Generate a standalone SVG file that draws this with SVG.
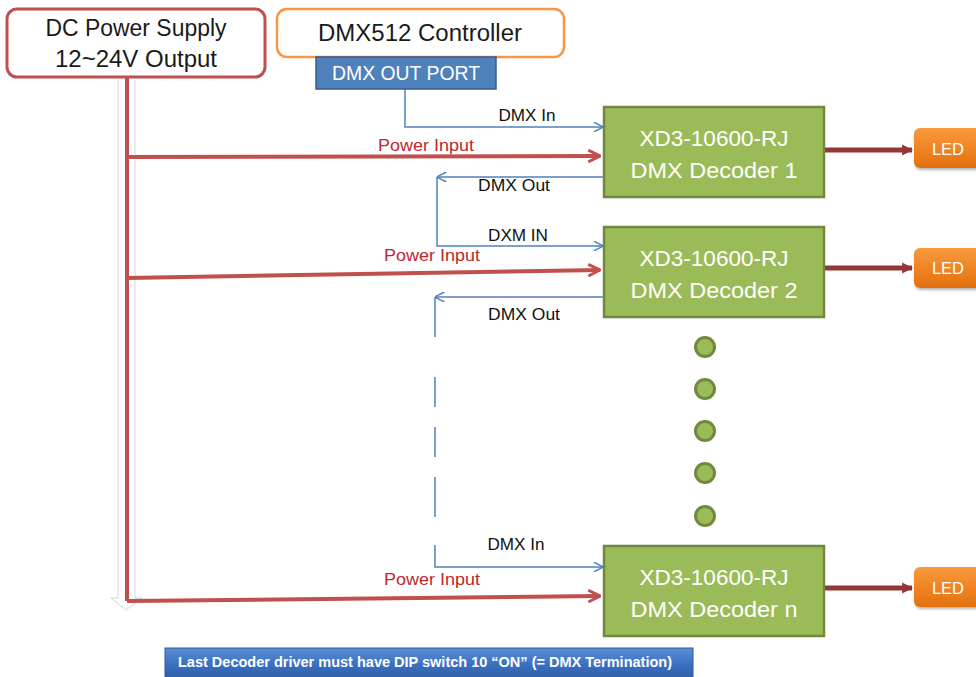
<svg xmlns="http://www.w3.org/2000/svg" width="976" height="677" viewBox="0 0 976 677">
<defs>
<style>
text{font-family:"Liberation Sans",Arial,sans-serif}
.hdr{font-size:23.5px;fill:#1a1a1a;text-anchor:middle}
.dec{font-size:22.5px;fill:#fff;text-anchor:middle}
.lbl{font-size:16.5px;fill:#111;text-anchor:middle}
.pwl{font-size:16.5px;fill:#c0272d;text-anchor:middle}
.blue{stroke:#4f81bd;stroke-width:1.5;fill:none}
.red{stroke:#c0504d;stroke-width:4;fill:none}
.led-line{stroke:#953735;stroke-width:5;fill:none}
.decbox{fill:#9bbb59;stroke:#71893f;stroke-width:2.5}
.dot{fill:#9bbb59;stroke:#71893f;stroke-width:3}
.led{fill:url(#ledg)}
</style>
<linearGradient id="ledg" x1="0" y1="0" x2="0" y2="1">
<stop offset="0" stop-color="#f99a3c"/>
<stop offset="1" stop-color="#e4700e"/>
</linearGradient>
<linearGradient id="bang" x1="0" y1="0" x2="0" y2="1">
<stop offset="0" stop-color="#5b8fd6"/>
<stop offset="0.5" stop-color="#3a6fc0"/>
<stop offset="1" stop-color="#2c5aa0"/>
</linearGradient>
<marker id="ab" viewBox="0 0 10 10" refX="9.5" refY="5" markerWidth="10" markerHeight="10" markerUnits="userSpaceOnUse" orient="auto">
<path d="M0,0 L10,5 L0,10" fill="none" stroke="#4f81bd" stroke-width="1.5"/>
</marker>
<marker id="ar" viewBox="0 0 12 12" refX="11" refY="6" markerWidth="14" markerHeight="14" markerUnits="userSpaceOnUse" orient="auto">
<path d="M1,1 L11,6 L1,11" fill="none" stroke="#c0504d" stroke-width="2.5"/>
</marker>
<marker id="ad" viewBox="0 0 10 10" refX="9" refY="5" markerWidth="11" markerHeight="13" markerUnits="userSpaceOnUse" orient="auto">
<path d="M0,0 L10,5 L0,10 Z" fill="#953735"/>
</marker>
<filter id="sh" x="-10%" y="-10%" width="130%" height="140%">
<feDropShadow dx="1" dy="2" stdDeviation="1.5" flood-color="#000" flood-opacity="0.3"/>
</filter>
</defs>

<g id="connectors">
<path d="M118,80 L118,598 L111,598 L126,610 L142,598 L135,598 L135,80" fill="#fff" stroke="#d6d6d6" stroke-width="1"/>
<path class="red" d="M127,78 L127,601"/>
<path class="red" d="M127,157 L600,156" marker-end="url(#ar)"/>
<path class="red" d="M127,278 L600,270" marker-end="url(#ar)"/>
<path class="red" d="M127,601 L600,596" marker-end="url(#ar)"/>
<path class="blue" d="M405,89 L405,127 L603,127" marker-end="url(#ab)"/>
<path class="blue" d="M603,177 L437,177" marker-end="url(#ab)"/>
<path class="blue" d="M437,177 L437,246 L603,246" marker-end="url(#ab)"/>
<path class="blue" d="M603,297 L435,297" marker-end="url(#ab)"/>
<path class="blue" d="M435,297 L435,337 M435,377 L435,407 M435,427 L435,457 M435,477 L435,517"/>
<path class="blue" d="M435,545 L435,567 L603,567" marker-end="url(#ab)"/>
<path class="led-line" d="M825,150 L912,150" marker-end="url(#ad)"/>
<path class="led-line" d="M825,268 L912,268" marker-end="url(#ad)"/>
<path class="led-line" d="M825,588 L912,588" marker-end="url(#ad)"/>
<text class="lbl" x="527" y="121" textLength="57" lengthAdjust="spacingAndGlyphs">DMX In</text>
<text class="pwl" x="426" y="151" textLength="96" lengthAdjust="spacingAndGlyphs">Power Input</text>
<text class="lbl" x="514" y="191" textLength="72" lengthAdjust="spacingAndGlyphs">DMX Out</text>
<text class="lbl" x="518" y="241" textLength="60" lengthAdjust="spacingAndGlyphs">DXM IN</text>
<text class="pwl" x="432" y="261" textLength="96" lengthAdjust="spacingAndGlyphs">Power Input</text>
<text class="lbl" x="524" y="320" textLength="72" lengthAdjust="spacingAndGlyphs">DMX Out</text>
<text class="lbl" x="516" y="550" textLength="57" lengthAdjust="spacingAndGlyphs">DMX In</text>
<text class="pwl" x="432" y="585" textLength="96" lengthAdjust="spacingAndGlyphs">Power Input</text>
</g>

<g id="power-supply">
<rect x="7" y="9" width="258" height="68" rx="10" fill="#fff" stroke="#c0504d" stroke-width="3"/>
<text class="hdr" x="136" y="36" textLength="181" lengthAdjust="spacingAndGlyphs">DC Power Supply</text>
<text class="hdr" x="136" y="67" textLength="162" lengthAdjust="spacingAndGlyphs">12~24V Output</text>
</g>

<g id="controller">
<rect x="277" y="9" width="287" height="48" rx="10" fill="#fff" stroke="#f79646" stroke-width="2.5"/>
<text class="hdr" x="420" y="41" textLength="204" lengthAdjust="spacingAndGlyphs">DMX512 Controller</text>
</g>

<g id="dmx-out-port">
<rect x="316" y="57" width="180" height="32" fill="#4f81bd" stroke="#385d8a" stroke-width="1.5"/>
<text x="406" y="80" font-size="19.5" fill="#fff" text-anchor="middle" textLength="148" lengthAdjust="spacingAndGlyphs">DMX OUT PORT</text>
</g>

<g id="decoder1">
<rect class="decbox" x="604" y="107" width="220" height="90"/>
<text class="dec" x="714" y="146" textLength="149" lengthAdjust="spacingAndGlyphs">XD3-10600-RJ</text>
<text class="dec" x="714" y="178" textLength="167" lengthAdjust="spacingAndGlyphs">DMX Decoder 1</text>
</g>
<g id="decoder2">
<rect class="decbox" x="604" y="227" width="220" height="90"/>
<text class="dec" x="714" y="266" textLength="149" lengthAdjust="spacingAndGlyphs">XD3-10600-RJ</text>
<text class="dec" x="714" y="298" textLength="167" lengthAdjust="spacingAndGlyphs">DMX Decoder 2</text>
</g>
<g id="decodern">
<rect class="decbox" x="604" y="546" width="220" height="90"/>
<text class="dec" x="714" y="585" textLength="149" lengthAdjust="spacingAndGlyphs">XD3-10600-RJ</text>
<text class="dec" x="714" y="617" textLength="167" lengthAdjust="spacingAndGlyphs">DMX Decoder n</text>
</g>

<g id="dots">
<circle class="dot" cx="705" cy="347" r="9.5"/>
<circle class="dot" cx="705" cy="389" r="9.5"/>
<circle class="dot" cx="705" cy="431" r="9.5"/>
<circle class="dot" cx="705" cy="473" r="9.5"/>
<circle class="dot" cx="705" cy="516" r="9.5"/>
</g>

<g id="led1">
<rect class="led" x="914" y="128" width="80" height="40" rx="6" filter="url(#sh)"/>
<text x="948" y="155" font-size="16.5" fill="#fff" text-anchor="middle">LED</text>
</g>
<g id="led2">
<rect class="led" x="914" y="248" width="80" height="40" rx="6" filter="url(#sh)"/>
<text x="948" y="274" font-size="16.5" fill="#fff" text-anchor="middle">LED</text>
</g>
<g id="led3">
<rect class="led" x="914" y="567" width="80" height="40" rx="6" filter="url(#sh)"/>
<text x="948" y="594" font-size="16.5" fill="#fff" text-anchor="middle">LED</text>
</g>

<g id="note">
<rect x="165" y="648" width="528" height="34" fill="url(#bang)" stroke="#2c5aa0" stroke-width="1"/>
<text x="425" y="667" font-size="14" font-weight="bold" fill="#fff" text-anchor="middle" textLength="494" lengthAdjust="spacingAndGlyphs">Last Decoder driver must have DIP switch 10 “ON” (= DMX Termination)</text>
</g>
</svg>
